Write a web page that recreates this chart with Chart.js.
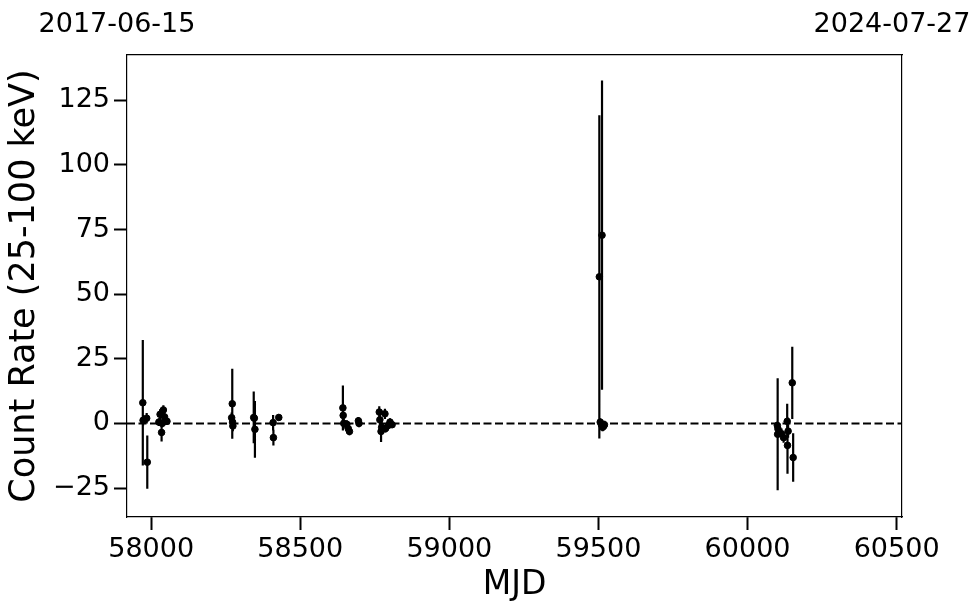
<html lang="en">
<head>
    <meta charset="UTF-8">
    <title>Count rate vs MJD</title>
    <script src="https://cdn.jsdelivr.net/npm/chart.js@4.4.1/dist/chart.umd.min.js"></script>
</head>
<body style="margin: 0; background: #fff">
    <canvas id="myChart" width="980" height="613"></canvas>
</body>
</html>

<script>
    // Datos
    const mjd = [57972, 57973, 57985, 57987,
        58026, 58030, 58035, 58037, 58041, 58045, 58050, 58053,
        58270, 58272, 58273, 58274,
        58344, 58346, 58348, 58409, 58410, 58428,
        58643, 58644, 58646, 58656, 58661, 58665, 58695, 58697,
        58765, 58767, 58771, 58773, 58784, 58786, 58795, 58801, 58808,
        59503, 59512, 59506, 59510, 59514, 59518, 59520,
        60100, 60101, 60102, 60114, 60121, 60133, 60136, 60134, 60150, 60153];
    const rate = [8.0, 1.2, 2.0, -15.0,
        0.5, 3.5, -3.5, 0.0, 5.2, 2.5, 1.0, 0.8,
        2.2, 7.6, 0.5, -1.0,
        2.3, 2.0, -2.3, 0.3, -5.5, 2.3,
        6.0, 3.1, 0.0, -0.3, -2.0, -3.1, 1.0, 0.0,
        4.4, 1.4, -3.1, -1.5, 3.7, -2.0, -0.8, 0.5, -0.5,
        56.7, 72.8, 0.5, -0.5, -1.5, -1.0, -0.5,
        -0.8, -4.2, -2.1, -4.0, -5.5, 0.8, -3.0, -8.5, 15.7, -13.2];
    const rateErr = [24.3, 2.0, 2.0, 10.3,
        1.5, 2.0, 3.5, 1.5, 1.8, 1.5, 1.5, 1.2,
        2.0, 13.5, 2.0, 2.0,
        10.0, 6.0, 11.0, 3.0, 3.0, 1.2,
        8.7, 3.0, 2.0, 1.5, 1.5, 1.5, 1.5, 1.5,
        2.2, 2.0, 4.1, 2.0, 2.0, 1.5, 1.5, 1.5, 1.0,
        62.5, 59.8, 1.5, 1.5, 1.5, 1.5, 1.5,
        1.5, 21.7, 1.5, 2.0, 2.0, 6.8, 2.5, 11.0, 14.0, 9.4];

    const xRange = [57919, 60518];
    const yRange = [-36.2, 142.5];
    const xTicks = [58000, 58500, 59000, 59500, 60000, 60500];
    const yTicks = [-25, 0, 25, 50, 75, 100, 125];
    const dateLabels = ['2017-06-15', '2024-07-27'];

    // Barras de error: segmentos separados por huecos
    var errSegs = [];
    for (let i = 0; i < mjd.length; i++) {
        errSegs.push({x: mjd[i], y: rate[i] - rateErr[i]});
        errSegs.push({x: mjd[i], y: rate[i] + rateErr[i]});
        errSegs.push({x: mjd[i], y: null});
    }
    var points = mjd.map((m, i) => ({x: m, y: rate[i]}));

    Chart.defaults.font.family = 'DejaVu Sans';
    Chart.defaults.color = '#000';

    var tickFont = {size: 27};
    var axisGrid = {display: true, drawOnChartArea: false, drawTicks: true, tickLength: 13, tickWidth: 2, tickColor: '#000'};
    var noGrid = {display: false, drawTicks: false};
    var frame = {display: true, color: '#000', width: 1.2};
    var minus = (v) => String(v).replace('-', '\u2212');

    // sin relleno extra por etiquetas que sobresalen
    function noPad(s) { s.paddingLeft = 0; s.paddingRight = 0; }

    var ctx = document.getElementById('myChart').getContext('2d');
    var myChart = new Chart(ctx, {
        type: 'scatter',
        data: {
            datasets: [
                {
                    type: 'line',
                    data: [{x: xRange[0], y: 0}, {x: xRange[1], y: 0}],
                    borderColor: '#000', borderWidth: 2, borderDash: [8, 3.5],
                    pointRadius: 0
                },
                {
                    type: 'line',
                    data: errSegs,
                    borderColor: '#000', borderWidth: 2.2,
                    pointRadius: 0, spanGaps: false
                },
                {
                    data: points,
                    backgroundColor: '#000', borderColor: '#000',
                    pointRadius: 3.3
                }
            ]
        },
        options: {
            responsive: false,
            animation: false,
            devicePixelRatio: 1,
            layout: {padding: {left: 0, right: 78, top: 0, bottom: 0}},
            plugins: {legend: {display: false}, tooltip: {enabled: false}},
            scales: {
                x: {
                    type: 'linear', position: 'bottom',
                    min: xRange[0], max: xRange[1],
                    afterBuildTicks: (s) => { s.ticks = xTicks.map(v => ({value: v})); },
                    afterFit: (s) => { s.height = 96; noPad(s); },
                    ticks: {font: tickFont, padding: 4, maxRotation: 0, callback: (v) => String(v)},
                    grid: axisGrid, border: frame,
                    title: {display: true, text: 'MJD', font: {size: 33}, padding: {top: 0, bottom: 8}}
                },
                xTop: {
                    type: 'linear', position: 'top',
                    min: xRange[0], max: xRange[1],
                    afterBuildTicks: (s) => { s.ticks = xRange.map(v => ({value: v})); },
                    afterFit: (s) => { s.height = 55; noPad(s); },
                    ticks: {font: tickFont, padding: 14, labelOffset: -10, maxRotation: 0,
                        callback: (v, i) => dateLabels[i]},
                    grid: noGrid, border: frame
                },
                y: {
                    type: 'linear', position: 'left',
                    min: yRange[0], max: yRange[1],
                    afterBuildTicks: (s) => { s.ticks = yTicks.map(v => ({value: v})); },
                    afterFit: (s) => { s.width = 127; },
                    ticks: {font: tickFont, padding: 4, callback: minus},
                    grid: axisGrid, border: frame,
                    title: {display: true, text: 'Count Rate (25-100 keV)', font: {size: 35}, padding: {top: 4, bottom: 0}}
                },
                yRight: {
                    type: 'linear', position: 'right',
                    min: yRange[0], max: yRange[1],
                    afterFit: (s) => { s.width = 0; },
                    ticks: {display: false},
                    grid: noGrid, border: frame
                }
            }
        }
    });
</script>
